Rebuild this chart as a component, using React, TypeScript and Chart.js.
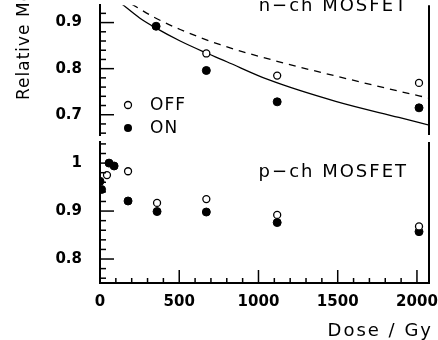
import React, { useEffect, useRef } from "react";
import { Chart, registerables } from "chart.js";

Chart.register(...registerables);

const W = 438;
const H = 340;

// ---- axis ticks ----
const doseTicks = [0, 500, 1000, 1500, 2000];
const doseTickLabels = ["0", "500", "1000", "1500", "2000"];
const topTicks = [0.7, 0.8, 0.9];
const topTickLabels = ["0.7", "0.8", "0.9"];
const bottomTicks = [0.8, 0.9, 1];
const bottomTickLabels = ["0.8", "0.9", "1"];

const doseMin = 0;
const doseMax = 2076;
const topMin = 0.656;
const topMax = 0.9375;
const bottomMin = 0.75;
const bottomMax = 1.044;

// ---- n-channel MOSFET (top panel) ----
const nOffDose = [671, 1118, 2013];
const nOffValue = [0.833, 0.785, 0.769];
const nOnDose = [354, 671, 1118, 2013];
const nOnValue = [0.892, 0.796, 0.728, 0.715];
const nSolidDose = [139, 250, 354, 506, 671, 800, 1063, 1487, 1886, 2080];
const nSolidValue = [0.94, 0.91, 0.888, 0.86, 0.834, 0.815, 0.776, 0.729, 0.694, 0.677];
const nDashDose = [200, 350, 506, 759, 1118, 1500, 2013, 2080];
const nDashValue = [0.94, 0.91, 0.885, 0.852, 0.816, 0.783, 0.741, 0.736];

// ---- p-channel MOSFET (bottom panel) ----
const pOffDose = [44, 177, 360, 671, 1118, 2013];
const pOffValue = [0.975, 0.983, 0.917, 0.925, 0.892, 0.868];
const pOnDose = [0, 10, 57, 89, 177, 360, 671, 1118, 2013];
const pOnValue = [0.962, 0.945, 1.0, 0.994, 0.921, 0.899, 0.898, 0.876, 0.857];

const legendLabels = ["OFF", "ON"];
const topTitle = "n\u2212ch MOSFET";
const bottomTitle = "p\u2212ch MOSFET";
const yTitle = "Relative Mobility";
const xTitle = "Dose / Gy";

const zip = (xs: number[], ys: number[]) => xs.map((x, i) => ({ x, y: ys[i] }));

const tickFont = { family: "DejaVu Sans", weight: "bold" as const, size: 15 };

const offStyle = {
  pointRadius: 3.5,
  pointBackgroundColor: "#fff",
  pointBorderColor: "#000",
  pointBorderWidth: 1.3,
  showLine: false,
};
const onStyle = {
  pointRadius: 4,
  pointBackgroundColor: "#000",
  pointBorderColor: "#000",
  pointBorderWidth: 1,
  showLine: false,
};
const curveStyle = {
  showLine: true,
  pointRadius: 0,
  borderColor: "#000",
  borderWidth: 1.3,
  tension: 0.4,
  cubicInterpolationMode: "monotone",
  fill: false,
  clip: 0,
};

const decorPlugin = {
  id: "decor",
  afterDatasetsDraw(chart: any, _args: any, opts: any) {
    const { ctx, chartArea: a, scales } = chart;
    const xs = scales.x;
    const ys = scales.y;
    ctx.save();
    ctx.strokeStyle = "#000";
    ctx.fillStyle = "#000";
    ctx.lineWidth = 2;
    ctx.beginPath();
    ctx.moveTo(a.right, a.top);
    ctx.lineTo(a.right, a.bottom);
    ctx.stroke();

    ctx.lineWidth = 1.5;
    const start = Math.ceil(ys.min / 0.02 - 1e-6);
    const end = Math.floor(ys.max / 0.02 + 1e-6);
    for (let k = start; k <= end; k++) {
      const py = ys.getPixelForValue(k * 0.02);
      const major = k % 5 === 0;
      ctx.beginPath();
      ctx.moveTo(a.left, py);
      ctx.lineTo(a.left + (major ? 14 : 6), py);
      ctx.stroke();
    }
    if (opts.xTicks) {
      for (let d = 100; d < xs.max; d += 100) {
        const px = xs.getPixelForValue(d);
        const major = d % 500 === 0;
        ctx.beginPath();
        ctx.moveTo(px, a.bottom);
        ctx.lineTo(px, a.bottom - (major ? 13 : 5));
        ctx.stroke();
      }
    }

    // panel title
    ctx.font = "18px 'DejaVu Sans'";
    (ctx as any).letterSpacing = "2px";
    ctx.textAlign = "right";
    ctx.textBaseline = "alphabetic";
    ctx.fillText(opts.title, a.right - 21, a.top + opts.titleOffset);

    if (opts.legend) {
      (ctx as any).letterSpacing = "1px";
      ctx.font = "17px 'DejaVu Sans'";
      ctx.textAlign = "left";
      ctx.textBaseline = "middle";
      const lx = a.left + 28;
      const ly1 = a.bottom - 30;
      const ly2 = a.bottom - 7;
      ctx.lineWidth = 1.3;
      ctx.beginPath();
      ctx.arc(lx, ly1, 3.5, 0, Math.PI * 2);
      ctx.fillStyle = "#fff";
      ctx.fill();
      ctx.stroke();
      ctx.fillStyle = "#000";
      ctx.beginPath();
      ctx.arc(lx, ly2, 4, 0, Math.PI * 2);
      ctx.fill();
      ctx.fillText(legendLabels[0], lx + 22, ly1 + 1);
      ctx.fillText(legendLabels[1], lx + 22, ly2 + 1);

      // y axis title
      ctx.save();
      ctx.font = "17px 'DejaVu Sans'";
      (ctx as any).letterSpacing = "1px";
      ctx.translate(29, 100);
      ctx.rotate(-Math.PI / 2);
      ctx.textAlign = "left";
      ctx.textBaseline = "alphabetic";
      ctx.fillText(yTitle, 0, 0);
      ctx.restore();
    }

    if (opts.xTitle) {
      ctx.font = "18px 'DejaVu Sans'";
      (ctx as any).letterSpacing = "2px";
      ctx.textAlign = "right";
      ctx.textBaseline = "alphabetic";
      ctx.fillText(xTitle, a.right + 4, chart.height - 4);
    }
    ctx.restore();
  },
};

function noPad(s: any) {
  s.paddingTop = 0;
  s.paddingBottom = 0;
  s.paddingLeft = 0;
  s.paddingRight = 0;
}

function yScale(min: number, max: number, vals: number[], labels: string[]) {
  return {
    type: "linear",
    min,
    max,
    afterBuildTicks: (s: any) => {
      s.ticks = vals.map((v) => ({ value: v }));
    },
    afterFit: (s: any) => {
      s.width = 100;
      noPad(s);
    },
    grid: { display: false, drawTicks: false },
    border: { display: true, width: 2, color: "#000" },
    ticks: {
      color: "#000",
      padding: 18,
      font: tickFont,
      callback: (_v: any, i: number) => labels[i],
    },
  };
}

export default function App() {
  const topRef = useRef<HTMLCanvasElement>(null);
  const botRef = useRef<HTMLCanvasElement>(null);

  useEffect(() => {
    const common = {
      responsive: false,
      animation: false,
      devicePixelRatio: 1,
      events: [],
    };
    const top = new Chart(topRef.current as HTMLCanvasElement, {
      type: "scatter",
      data: {
        datasets: [
          { data: zip(nOffDose, nOffValue), ...offStyle },
          { data: zip(nOnDose, nOnValue), ...onStyle },
          { data: zip(nSolidDose, nSolidValue), ...curveStyle },
          { data: zip(nDashDose, nDashValue), ...curveStyle, borderDash: [7, 6] },
        ],
      } as any,
      options: {
        ...common,
        layout: { padding: { left: 0, right: 9, top: 0, bottom: 205 } },
        scales: {
          x: { type: "linear", min: doseMin, max: doseMax, display: false },
          y: yScale(topMin, topMax, topTicks, topTickLabels),
        },
        plugins: {
          legend: { display: false },
          tooltip: { enabled: false },
          decor: { title: topTitle, titleOffset: 6, legend: true, xTicks: false, xTitle: false },
        },
      } as any,
      plugins: [decorPlugin],
    });
    const bot = new Chart(botRef.current as HTMLCanvasElement, {
      type: "scatter",
      data: {
        datasets: [
          { data: zip(pOffDose, pOffValue), ...offStyle },
          { data: zip(pOnDose, pOnValue), ...onStyle },
        ],
      } as any,
      options: {
        ...common,
        layout: { padding: { left: 0, right: 9, top: 142, bottom: 0 } },
        scales: {
          x: {
            type: "linear",
            min: doseMin,
            max: doseMax,
            afterBuildTicks: (s: any) => {
              s.ticks = doseTicks.map((v) => ({ value: v }));
            },
            afterFit: (s: any) => {
              s.height = 57;
              noPad(s);
            },
            grid: { display: false, drawTicks: false },
            border: { display: true, width: 2, color: "#000" },
            ticks: {
              color: "#000",
              padding: 10,
              maxRotation: 0,
              autoSkip: false,
              font: tickFont,
              callback: (_v: any, i: number) => doseTickLabels[i],
            },
          },
          y: yScale(bottomMin, bottomMax, bottomTicks, bottomTickLabels),
        },
        plugins: {
          legend: { display: false },
          tooltip: { enabled: false },
          decor: { title: bottomTitle, titleOffset: 35, legend: false, xTicks: true, xTitle: true },
        },
      } as any,
      plugins: [decorPlugin],
    });
    return () => {
      top.destroy();
      bot.destroy();
    };
  }, []);

  return (
    <div style={{ position: "fixed", left: 0, top: 0, width: W, height: H, background: "#fff" }}>
      <canvas ref={topRef} width={W} height={H} style={{ position: "absolute", left: 0, top: 0 }} />
      <canvas ref={botRef} width={W} height={H} style={{ position: "absolute", left: 0, top: 0 }} />
    </div>
  );
}
